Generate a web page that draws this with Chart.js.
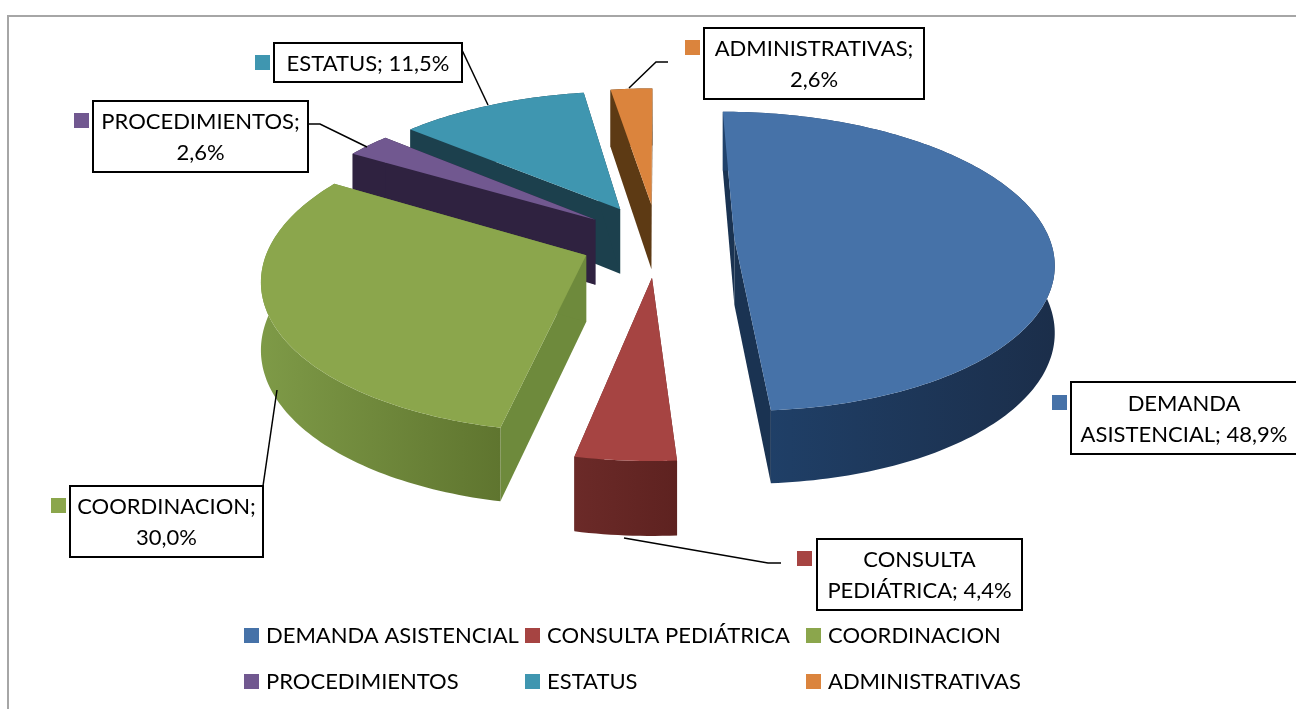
<!DOCTYPE html>
<html lang="es">
<head>
<meta charset="utf-8">
<title>Demanda</title>
<script src="https://cdn.jsdelivr.net/npm/chart.js@4"></script>
<style>
    html, body { margin: 0; background: #fff; }
    #wrap { width: 1296px; height: 709px; }
</style>
</head>
<body>
<div id="wrap"><canvas id="pie"></canvas></div>
<script>
// Chart values
const categories = ['DEMANDA ASISTENCIAL', 'CONSULTA PEDIÁTRICA', 'COORDINACION', 'PROCEDIMIENTOS', 'ESTATUS', 'ADMINISTRATIVAS'];
const shares = [48.9, 4.4, 30.0, 2.6, 11.5, 2.6];
const labelFirstLineWords = [1, 1, 1, 1, 2, 1];

// Slice styles
const topColors = ['#4672A8', '#A64442', '#8BA64C', '#715890', '#3F96B0', '#DB843D'];
const cutColors = ['#1A3352', '#652624', '#6E8A3C', '#2F2240', '#1C404D', '#5D3A14'];
const sideLeftColors = ['#20426C', '#6B2A28', '#7E9A47', '#2F2240', '#1C404D', '#5D3A14'];
const sideRightColors = ['#1B2E4A', '#5E2220', '#5F752F', '#2F2240', '#1C404D', '#5D3A14'];

// Layout of the label boxes: [x, y, width, height]
const labelBoxes = [[1071, 382, 240, 72], [817, 539, 205, 71], [70, 486, 193, 71], [93, 101, 215, 71], [274, 43, 188, 39], [704, 28, 220, 71]];
const labelSwatches = [[1052, 395], [797, 551], [51, 498], [74, 113], [255, 55], [685, 40]];
const labelLeaders = [
    [],
    [[624, 538], [768, 563], [781, 563]],
    [[263, 486], [277, 390]],
    [[308, 124], [320, 124], [367, 147]],
    [[462, 50], [488, 105]],
    [[668, 62], [656, 62], [629, 88]]
];
const legendSwatchX = [244, 525, 806, 244, 525, 806];
const legendRowY = [635, 635, 635, 681, 681, 681];

// Tilted view of the pie
const VIEW = { cx: 657.5, cy: 240, squash: 0.475, perspective: 0.000475, depth: 66, depthSlope: 0.0225 };
const FONT = '22px Lato, Carlito, sans-serif';

function project(X, Y) {
    const k = 1 + VIEW.perspective * Y;
    return { x: VIEW.cx + X * k, y: VIEW.cy + VIEW.squash * Y * k, d: VIEW.depth + VIEW.depthSlope * Y };
}

function fillPolygon(ctx, pts, fill) {
    ctx.beginPath();
    pts.forEach((p, i) => (i ? ctx.lineTo(p.x, p.y) : ctx.moveTo(p.x, p.y)));
    ctx.closePath();
    ctx.fillStyle = fill;
    ctx.fill();
}

// Draw one slice from the geometry Chart.js worked out for it
function drawSlice(ctx, arc, i) {
    const mid = (arc.startAngle + arc.endAngle) / 2;
    const ax = Math.cos(mid) * arc.options.offset;
    const ay = Math.sin(mid) * arc.options.offset;
    const rim = [];
    const steps = Math.ceil((arc.endAngle - arc.startAngle) / 0.02);
    for (let s = 0; s <= steps; s++) {
        const t = arc.startAngle + (arc.endAngle - arc.startAngle) * s / steps;
        rim.push(project(ax + Math.cos(t) * arc.outerRadius, ay + Math.sin(t) * arc.outerRadius));
    }
    const apex = project(ax, ay);
    const down = p => ({ x: p.x, y: p.y + p.d });

    [rim[0], rim[rim.length - 1]].forEach(corner => {
        fillPolygon(ctx, [apex, corner, down(corner), down(apex)], cutColors[i]);
    });

    const xs = rim.map(p => p.x);
    const grad = ctx.createLinearGradient(Math.min(...xs), 0, Math.max(...xs), 0);
    grad.addColorStop(0, sideLeftColors[i]);
    grad.addColorStop(1, sideRightColors[i]);
    fillPolygon(ctx, rim.concat(rim.map(down).reverse()), grad);

    fillPolygon(ctx, [apex].concat(rim), arc.options.backgroundColor);
}

function drawTextCentered(ctx, text, x, y) {
    ctx.textAlign = 'center';
    ctx.textBaseline = 'middle';
    ctx.fillStyle = '#000';
    ctx.fillText(text, x, y);
}

const tiltedPie = {
    id: 'tiltedPie',
    beforeDraw(chart) {
        // chart frame, the picture is cropped at right and bottom
        const ctx = chart.ctx;
        ctx.save();
        ctx.strokeStyle = '#A6A6A6';
        ctx.lineWidth = 2;
        ctx.beginPath();
        ctx.moveTo(8, 709);
        ctx.lineTo(8, 16);
        ctx.lineTo(1296, 16);
        ctx.stroke();
        ctx.restore();
    },
    beforeDatasetDraw(chart) {
        const ctx = chart.ctx;
        const arcs = chart.getDatasetMeta(0).data;
        const order = arcs.map((a, i) => i).sort((a, b) =>
            Math.sin((arcs[a].startAngle + arcs[a].endAngle) / 2) - Math.sin((arcs[b].startAngle + arcs[b].endAngle) / 2));
        ctx.save();
        order.forEach(i => drawSlice(ctx, arcs[i], i));
        ctx.restore();
        return false;
    },
    afterDraw(chart) {
        const ctx = chart.ctx;
        ctx.save();
        ctx.font = FONT;

        categories.forEach((cat, i) => {
            // leader line
            if (labelLeaders[i].length) {
                ctx.strokeStyle = '#000';
                ctx.lineWidth = 1.5;
                ctx.beginPath();
                labelLeaders[i].forEach(([x, y], j) => (j ? ctx.lineTo(x, y) : ctx.moveTo(x, y)));
                ctx.stroke();
            }

            // data label box
            const [bx, by, bw, bh] = labelBoxes[i];
            ctx.fillStyle = '#fff';
            ctx.fillRect(bx, by, bw, bh);
            ctx.strokeStyle = '#000';
            ctx.lineWidth = 2;
            ctx.strokeRect(bx, by, bw, bh);

            ctx.fillStyle = topColors[i];
            ctx.fillRect(labelSwatches[i][0], labelSwatches[i][1], 15, 15);

            const words = `${cat}; ${shares[i].toFixed(1).replace('.', ',')}%`.split(' ');
            const n = labelFirstLineWords[i];
            const lines = [words.slice(0, n).join(' '), words.slice(n).join(' ')].filter(Boolean);
            const midX = i === 0 ? bx + 113 : bx + bw / 2;
            lines.forEach((line, j) => {
                drawTextCentered(ctx, line, midX, by + bh / 2 + 1 + (j - (lines.length - 1) / 2) * 31);
            });

            // legend
            ctx.fillStyle = topColors[i];
            ctx.fillRect(legendSwatchX[i], legendRowY[i] - 7, 15, 15);
            ctx.fillStyle = '#000';
            ctx.textAlign = 'left';
            ctx.textBaseline = 'middle';
            ctx.fillText(cat, legendSwatchX[i] + 22, legendRowY[i] + 1);
        });
        ctx.restore();
    }
};

new Chart(document.getElementById('pie'), {
    type: 'pie',
    data: {
        labels: categories,
        datasets: [{
            data: shares,
            backgroundColor: topColors,
            borderWidth: 0,
            offset: 77
        }]
    },
    options: {
        responsive: true,
        maintainAspectRatio: false,
        animation: false,
        radius: 315.5,
        layout: { padding: 0 },
        plugins: {
            legend: { display: false },
            tooltip: { enabled: false }
        }
    },
    plugins: [tiltedPie]
});
</script>
</body>
</html>
